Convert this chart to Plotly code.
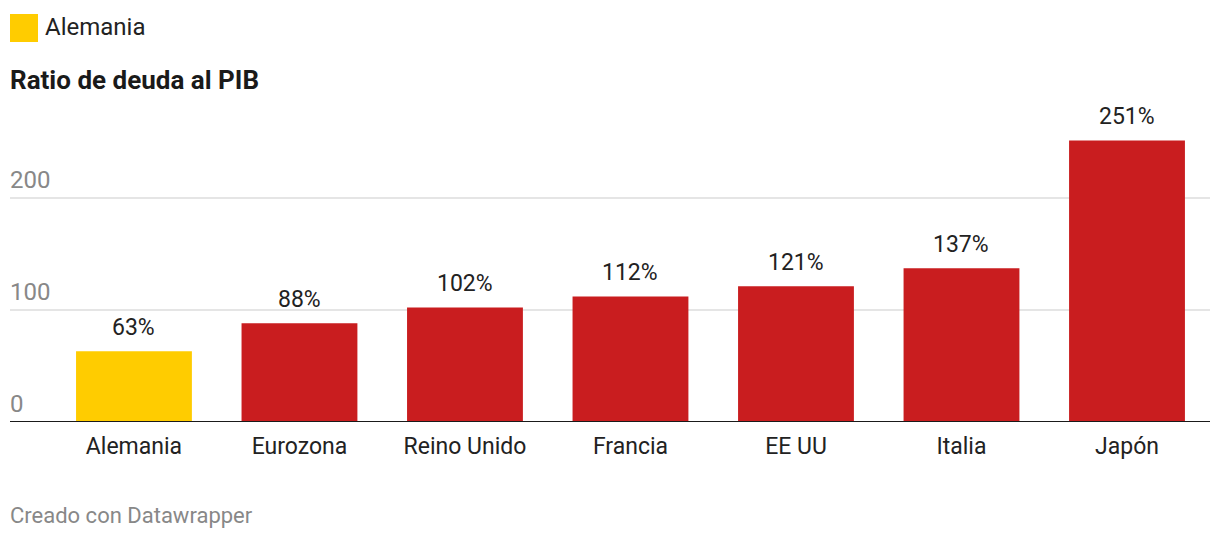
import plotly.graph_objects as go

categories = ["Alemania", "Eurozona", "Reino Unido", "Francia", "EE UU", "Italia", "Japón"]
values = [63, 88, 102, 112, 121, 137, 251]
labels = ["63%", "88%", "102%", "112%", "121%", "137%", "251%"]
y_ticks = [0, 100, 200]

YELLOW = "#FFCC00"
RED = "#C91D1F"
colors = [YELLOW if c == "Alemania" else RED for c in categories]
xpos = list(range(len(categories)))

fig = go.Figure()
fig.add_trace(go.Bar(
    x=xpos, y=values, marker=dict(color=colors, line=dict(width=0)),
    width=0.70, hoverinfo="skip", showlegend=False,
))

for x, v, t in zip(xpos, values, labels):
    fig.add_annotation(x=x, y=v, text=t, showarrow=False, yshift=24,
                       yanchor="middle", xanchor="center",
                       font=dict(family="Roboto", size=23, color="#222222"))

for t in y_ticks:
    fig.add_annotation(x=0, xref="paper", y=t, yref="y", text=str(t), showarrow=False,
                       xanchor="left", yanchor="middle", yshift=18, xshift=-2,
                       font=dict(family="Roboto", size=24, color="#888888"))

# baseline
fig.add_shape(type="line", xref="paper", x0=0, x1=1, yref="y", y0=0, y1=0,
              line=dict(color="#1a1a1a", width=2))

fig.update_layout(
    width=1220, height=540,
    margin=dict(l=10, r=10, t=108, b=118),
    paper_bgcolor="white", plot_bgcolor="white",
    font=dict(family="Roboto", size=20, color="#222222"),
    bargap=0.3,
    xaxis=dict(range=[-0.749, 6.5015], tickvals=xpos, ticktext=categories,
               showgrid=False, zeroline=False, showline=False, ticks="",
               ticklabelstandoff=8,
               tickfont=dict(family="Roboto", size=23, color="#222222"),
               fixedrange=True),
    yaxis=dict(range=[0, 280], tickvals=y_ticks, showticklabels=False,
               showgrid=True, gridcolor="#E5E5E5", gridwidth=2, zeroline=False,
               showline=False, ticks="", fixedrange=True),
)

def px_x(p):
    return (p - 10) / 1200

def px_y(p):
    return (422 - p) / 314

fig.add_shape(type="rect", xref="paper", yref="paper",
              x0=px_x(10), x1=px_x(38), y0=px_y(42), y1=px_y(14),
              fillcolor=YELLOW, line=dict(width=0))
fig.add_annotation(xref="paper", yref="paper", x=px_x(43), y=px_y(27),
                   text="Alemania", showarrow=False, xanchor="left", yanchor="middle",
                   font=dict(family="Roboto", size=24, color="#222222"))
fig.add_annotation(xref="paper", yref="paper", x=px_x(8), y=px_y(80),
                   text="<b>Ratio de deuda al PIB</b>", showarrow=False,
                   xanchor="left", yanchor="middle",
                   font=dict(family="Roboto", size=26, color="#1a1a1a"))
fig.add_annotation(xref="paper", yref="paper", x=px_x(8), y=px_y(515),
                   text="Creado con Datawrapper", showarrow=False,
                   xanchor="left", yanchor="middle",
                   font=dict(family="Roboto", size=22, color="#888888"))

fig.write_html("out.html", config={"displayModeBar": False},
               post_script="document.body.style.margin='0';")
